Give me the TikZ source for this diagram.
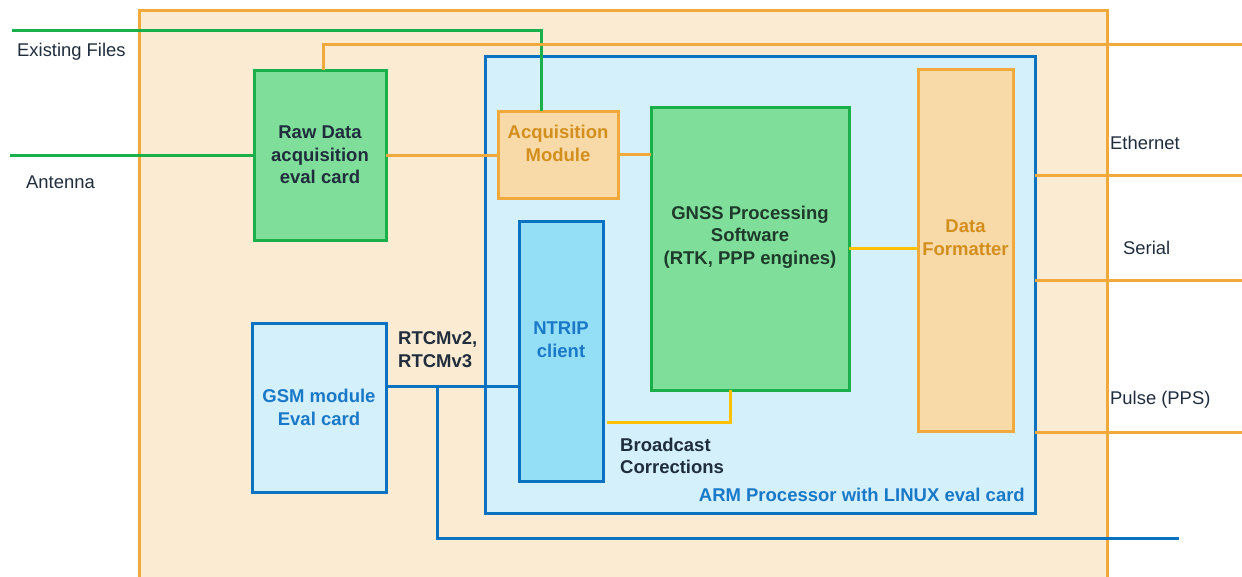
\documentclass[tikz,border=0pt]{standalone}
\usepackage{fontspec}
\setmainfont{Liberation Sans}
\definecolor{orangeline}{HTML}{F2A93B}
\definecolor{outerfill}{HTML}{FCEBD3}
\definecolor{greenline}{HTML}{1AAF4B}
\definecolor{greenfill}{HTML}{80DE9B}
\definecolor{blueline}{HTML}{0B72C2}
\definecolor{bluefill}{HTML}{D4F0FA}
\definecolor{ntripfill}{HTML}{95DFF6}
\definecolor{tanfill}{HTML}{F8D9A8}
\definecolor{tantext}{HTML}{D38F1E}
\definecolor{darktext}{HTML}{1F2D3D}
\definecolor{gnsstext}{HTML}{1D3A2A}
\definecolor{bluetext}{HTML}{1A78C8}
\definecolor{goldline}{HTML}{FFC000}
\tikzset{
  box/.style={draw, line width=3pt, inner sep=0pt, outer sep=0pt, anchor=north west},
  greenbox/.style={box, draw=greenline, fill=greenfill},
  tanbox/.style={box, draw=orangeline, fill=tanfill},
  bluebox/.style={box, draw=blueline, fill=bluefill},
  txt/.style={font=\fontsize{18.4}{22.5}\selectfont, align=center, inner sep=0pt},
  btxt/.style={font=\fontsize{18.5}{22.5}\selectfont\bfseries, align=center, inner sep=0pt},
  gwire/.style={draw=greenline, line width=3pt},
  owire/.style={draw=orangeline, line width=3pt},
  bwire/.style={draw=blueline, line width=3pt},
  ywire/.style={draw=goldline, line width=3pt},
}
\begin{document}
\begin{tikzpicture}[x=1pt,y=-1pt]
\useasboundingbox (0,0) rectangle (1242,576);
\clip (0,0) rectangle (1242,576);
\fill[white] (0,0) rectangle (1242,576);

% enclosure
\draw[orangeline, fill=outerfill, line width=3pt] (139,10) rectangle (1107,600);

% ARM processor card
\node[bluebox, minimum width=550pt, minimum height=457pt] (arm) at (485,56) {};

% blocks
\node[greenbox, minimum width=132pt, minimum height=170pt] (raw) at (254,70) {};
\node[tanbox, minimum width=120pt, minimum height=87pt] (acq) at (498,111) {};
\node[greenbox, minimum width=198pt, minimum height=283pt] (gnss) at (651,107) {};
\node[bluebox, fill=ntripfill, minimum width=84pt, minimum height=260pt] (ntrip) at (519,221) {};
\node[tanbox, minimum width=95pt, minimum height=362pt] (df) at (918,69) {};
\node[bluebox, minimum width=134pt, minimum height=169pt] (gsm) at (252,323) {};

% block texts
\node[btxt, text=darktext] (rawtxt) at (raw.center) {Raw Data\\acquisition\\eval card};
\node[btxt, text=tantext] (acqtxt) at (558,143.5) {Acquisition\\Module};
\node[btxt, text=gnsstext] (gnsstxt) at (750,237) {GNSS Processing\\Software\\(RTK, PPP engines)};
\node[btxt, text=bluetext] (ntriptxt) at (561,339.5) {NTRIP\\client};
\node[btxt, text=tantext] (dftxt) at (965.5,237.5) {Data\\Formatter};
\node[btxt, text=bluetext] (gsmtxt) at (gsm.center) {GSM module\\Eval card};
\node[btxt, text=bluetext, anchor=east] (armtxt) at (1025,495) {ARM Processor with LINUX eval card};
\node[btxt, text=darktext, align=left, anchor=west] (rtcm) at (398,349.5) {RTCMv2,\\RTCMv3};
\node[btxt, text=darktext, align=left, anchor=west] (bcast) at (620,456) {Broadcast\\Corrections};

% external labels
\node[txt, text=darktext, anchor=west] (files) at (17,52) {Existing Files};
\node[txt, text=darktext, anchor=west] (ant) at (26,182) {Antenna};
\node[txt, text=darktext, anchor=west] (eth) at (1110,143) {Ethernet};
\node[txt, text=darktext, anchor=west] (ser) at (1123,248) {Serial};
\node[txt, text=darktext, anchor=west] (pps) at (1110,400) {Pulse (PPS)};

% end points of wires
\coordinate (filesIn) at (12,30);
\coordinate (filesDrop) at (541,30);
\coordinate (antIn) at (10,155);
\coordinate (rawTop) at (323,70);
\coordinate (topOut) at (1242,44);
\coordinate (ethOut) at (1242,175);
\coordinate (serOut) at (1242,280);
\coordinate (ppsOut) at (1242,432);
\coordinate (tap) at (437,386);
\coordinate (busEnd) at (1179,538);
\coordinate (bcBend) at (730,422);

% input wires
\draw[gwire] (antIn) -- (raw.west |- antIn);
\draw[gwire] (filesIn) -- (filesDrop) -- (filesDrop |- acq.north);
\draw[owire] (rawTop) |- (topOut);
\draw[owire] (raw.east) -- (acq.west |- raw.east);
\draw[owire] (acq.east) -- (gnss.west |- acq.east);

% internal processing wires
\draw[ywire] (gnss.east) -- (df.west |- gnss.east);
\draw[ywire] (gnss.south -| bcBend) -- (bcBend) -- ([xshift=4pt]ntrip.east |- bcBend);

% correction stream
\draw[bwire] (gsm.east |- tap) -- (ntrip.west |- tap);
\draw[bwire] (tap) |- (busEnd);

% outputs
\draw[owire] (arm.east |- ethOut) -- (ethOut);
\draw[owire] (arm.east |- serOut) -- (serOut);
\draw[owire] (arm.east |- ppsOut) -- (ppsOut);
\end{tikzpicture}
\end{document}
